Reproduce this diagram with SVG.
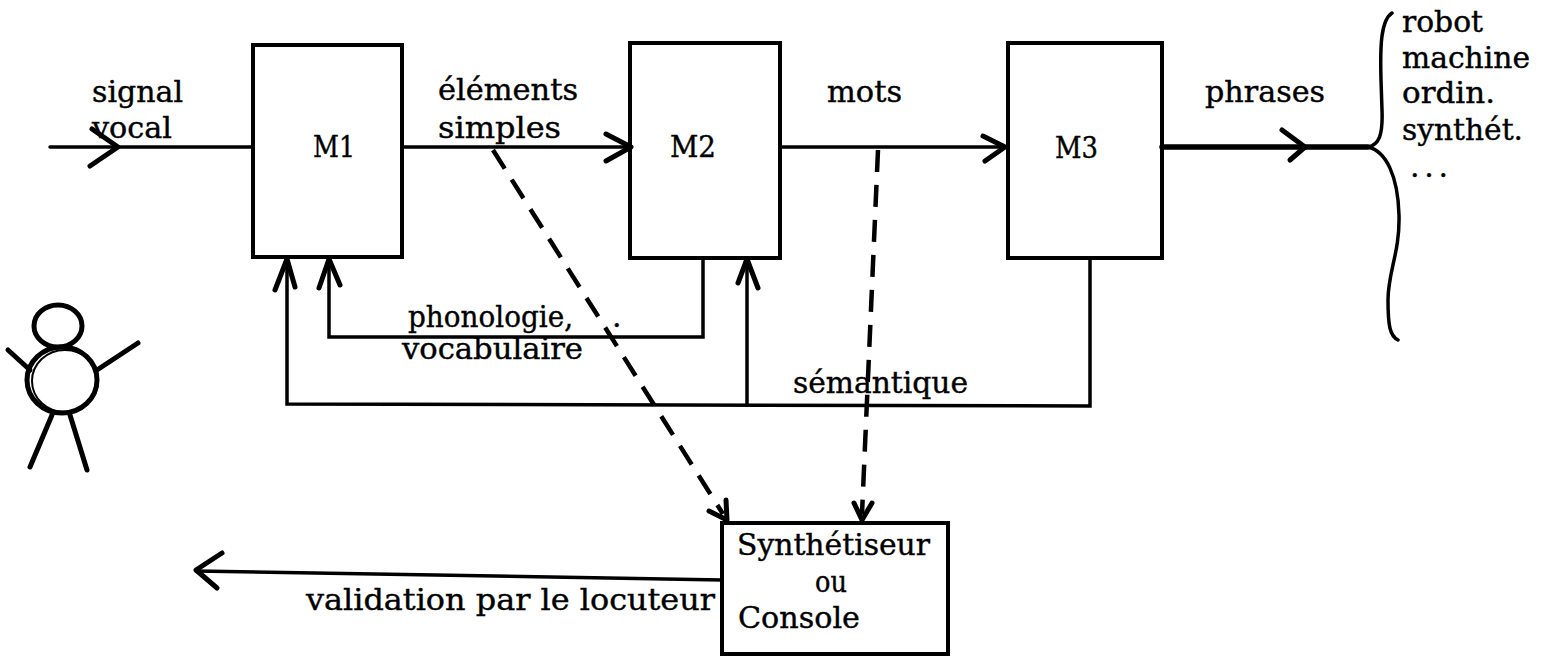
<svg xmlns="http://www.w3.org/2000/svg" width="1545" height="658" viewBox="0 0 1545 658">
  <style>
    text { font-family: "DejaVu Serif", "Liberation Serif", serif; font-size: 30px; fill: #000; stroke: #000; stroke-width: 0.4; }
    .box { fill: none; stroke: #000; stroke-width: 4; }
    .wire { fill: none; stroke: #000; stroke-width: 3.5; stroke-linecap: round; stroke-linejoin: miter; }
    .thick { fill: none; stroke: #000; stroke-width: 5.5; stroke-linecap: round; }
    .head { fill: none; stroke: #000; stroke-width: 5; stroke-linecap: round; stroke-linejoin: round; }
    .dash { fill: none; stroke: #000; stroke-width: 4.5; stroke-dasharray: 22 13; }
    .fig { fill: none; stroke: #000; stroke-width: 5; stroke-linecap: round; }
  </style>

  <!-- speaker -->
  <g id="speaker">
    <ellipse class="fig" cx="58" cy="326" rx="24" ry="21"/>
    <ellipse class="fig" cx="62" cy="380" rx="35" ry="33"/>
    <ellipse cx="65" cy="381" rx="33" ry="31" fill="none" stroke="#000" stroke-width="2"/>
    <path class="fig" d="M8,350 L30,370 M97,370 L138,343 M52,415 L30,467 M70,415 L87,470"/>
  </g>

  <!-- processing modules -->
  <g id="m1">
    <rect class="box" x="253" y="45" width="149" height="212"/>
    <text x="313" y="157" textLength="42" lengthAdjust="spacingAndGlyphs">M1</text>
  </g>
  <g id="m2">
    <rect class="box" x="630" y="43" width="150" height="215"/>
    <text x="670" y="157" textLength="46" lengthAdjust="spacingAndGlyphs">M2</text>
  </g>
  <g id="m3">
    <rect class="box" x="1008" y="43" width="154" height="215"/>
    <text x="1055" y="158" textLength="43" lengthAdjust="spacingAndGlyphs">M3</text>
  </g>
  <g id="synth">
    <rect class="box" x="722" y="523" width="226" height="131"/>
    <text x="737" y="555" textLength="193" lengthAdjust="spacingAndGlyphs">Synthétiseur</text>
    <text x="815" y="592" textLength="32" lengthAdjust="spacingAndGlyphs">ou</text>
    <text x="738" y="628" textLength="122" lengthAdjust="spacingAndGlyphs">Console</text>
  </g>
  <g id="outputs">
    <text x="1402" y="32" textLength="81" lengthAdjust="spacingAndGlyphs">robot</text>
    <text x="1402" y="68" textLength="128" lengthAdjust="spacingAndGlyphs">machine</text>
    <text x="1402" y="103" textLength="93" lengthAdjust="spacingAndGlyphs">ordin.</text>
    <text x="1402" y="140" textLength="121" lengthAdjust="spacingAndGlyphs">synthét.</text>
    <text x="1410" y="177" textLength="38" lengthAdjust="spacing">. . .</text>
  </g>

  <!-- connectors -->
  <g id="connectors">
    <!-- forward chain -->
    <path class="wire" d="M50,147 L253,147"/>
    <path class="head" d="M92,129 L118,147 L90,166"/>
    <path class="wire" d="M402,147 L630,147"/>
    <path class="head" d="M606,134 L631,147 L606,161"/>
    <path class="wire" d="M780,147 L1008,147"/>
    <path class="head" d="M983,136 L1005,147 L985,161"/>
    <path class="thick" d="M1162,147 L1368,147"/>
    <path class="head" d="M1282,130 L1305,147 L1290,160"/>
    <path class="wire" d="M1392,13 C1381,20 1380,45 1381,80 L1382,110 C1383,135 1379,145 1368,147 C1386,151 1398,176 1399,215 C1400,252 1388,272 1388,300 C1388,326 1390,336 1398,340"/>

    <!-- feedback from M2 -->
    <path class="wire" d="M703,258 L703,337 L329,337 L329,258"/>
    <path class="head" d="M319,288 L329,259 L340,285"/>
    <!-- feedback from M3 -->
    <path class="wire" d="M1090,258 L1090,406 L287,404 L287,258"/>
    <path class="wire" d="M747,405 L747,258"/>
    <path class="head" d="M275,290 L287,259 L295,287"/>
    <path class="head" d="M738,283 L747,259 L758,288"/>

    <!-- monitoring taps -->
    <path class="dash" d="M493,150 L723,514"/>
    <path class="head" d="M709,511 L727,520 L726,500"/>
    <path class="dash" d="M878,150 L862,514"/>
    <path class="head" d="M854,503 L862,520 L872,503"/>

    <!-- validation back to the speaker -->
    <path class="wire" d="M722,580 L196,571"/>
    <path class="head" d="M222,553 L196,570 L217,588"/>
  </g>

  <!-- connector labels -->
  <g id="labels">
    <text x="92" y="102" textLength="91" lengthAdjust="spacingAndGlyphs">signal</text>
    <text x="92" y="138" textLength="80" lengthAdjust="spacingAndGlyphs">vocal</text>
    <text x="438" y="100" textLength="140" lengthAdjust="spacingAndGlyphs">éléments</text>
    <text x="438" y="138" textLength="123" lengthAdjust="spacingAndGlyphs">simples</text>
    <text x="827" y="102" textLength="75" lengthAdjust="spacingAndGlyphs">mots</text>
    <text x="1205" y="102" textLength="120" lengthAdjust="spacingAndGlyphs">phrases</text>
    <text x="408" y="327" textLength="165" lengthAdjust="spacingAndGlyphs">phonologie,</text>
    <text x="612" y="327">.</text>
    <text x="402" y="359" textLength="181" lengthAdjust="spacingAndGlyphs">vocabulaire</text>
    <text x="793" y="393" textLength="175" lengthAdjust="spacingAndGlyphs">sémantique</text>
    <text x="306" y="610" textLength="409" lengthAdjust="spacingAndGlyphs">validation par le locuteur</text>
  </g>
</svg>
